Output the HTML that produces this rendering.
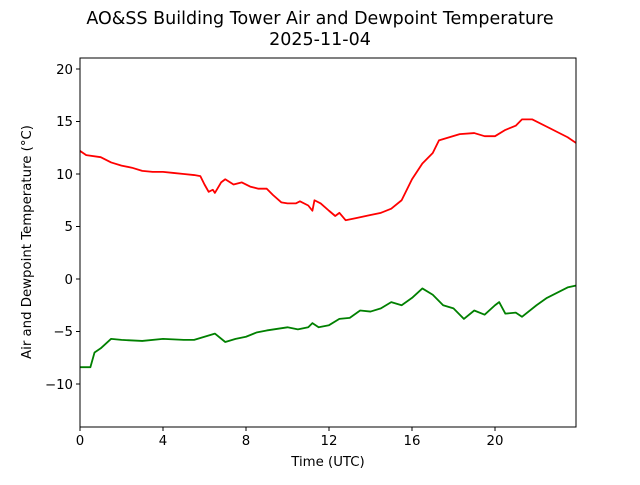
<!DOCTYPE html>
<html><head><meta charset="utf-8"><style>
body{margin:0;background:#fff;}
svg text{font-family:"DejaVu Sans","Liberation Sans",sans-serif;fill:#000;}
</style></head><body>
<svg width="640" height="480" viewBox="0 0 640 480" xmlns="http://www.w3.org/2000/svg">
<rect width="640" height="480" fill="#fff"/>
<text x="320" y="24" font-size="17.5" text-anchor="middle">AO&amp;SS Building Tower Air and Dewpoint Temperature</text>
<text x="320" y="45" font-size="17.5" text-anchor="middle">2025-11-04</text>
<defs><clipPath id="c"><rect x="80" y="58" width="496" height="369"/></clipPath></defs>
<g clip-path="url(#c)">
<g transform="translate(80,279) scale(20.75,-10.5)" fill="none" stroke-width="1.8" stroke-linejoin="round">
<polyline vector-effect="non-scaling-stroke" stroke="#ff0000" points="0,12.2 0.3,11.8 1,11.6 1.5,11.1 2,10.8 2.5,10.6 3,10.3 3.5,10.2 4,10.2 4.5,10.1 5,10.0 5.5,9.9 5.8,9.8 6,9.0 6.2,8.3 6.4,8.5 6.5,8.2 6.8,9.2 7,9.5 7.4,9.0 7.8,9.2 8.2,8.8 8.6,8.6 9,8.6 9.3,8.0 9.7,7.3 10,7.2 10.4,7.2 10.6,7.4 11,7.0 11.2,6.5 11.3,7.5 11.6,7.2 12,6.5 12.3,6.0 12.5,6.3 12.8,5.6 13.3,5.8 14,6.1 14.5,6.3 15,6.7 15.5,7.5 16,9.5 16.5,11.0 17,12.0 17.3,13.2 17.8,13.5 18.3,13.8 19,13.9 19.5,13.6 20,13.6 20.5,14.2 21,14.6 21.3,15.2 21.8,15.2 22.5,14.5 23,14.0 23.5,13.5 23.95,12.9"/>
<polyline vector-effect="non-scaling-stroke" stroke="#008000" points="0,-8.4 0.5,-8.4 0.7,-7.0 1,-6.6 1.5,-5.7 2,-5.8 3,-5.9 4,-5.7 5,-5.8 5.5,-5.8 6,-5.5 6.5,-5.2 7,-6.0 7.5,-5.7 8,-5.5 8.5,-5.1 9,-4.9 10,-4.6 10.5,-4.8 11,-4.6 11.2,-4.2 11.5,-4.6 12,-4.4 12.5,-3.8 13,-3.7 13.5,-3.0 14,-3.1 14.5,-2.8 15,-2.2 15.5,-2.5 16,-1.8 16.5,-0.9 17,-1.5 17.5,-2.5 18,-2.8 18.5,-3.8 19,-3.0 19.5,-3.4 20,-2.5 20.2,-2.2 20.5,-3.3 21,-3.2 21.3,-3.6 22,-2.5 22.5,-1.8 23,-1.3 23.5,-0.8 23.95,-0.6"/>
</g></g>
<rect x="80" y="58" width="496" height="369" fill="none" stroke="#000" stroke-width="1"/>
<g stroke="#000" stroke-width="1">
<line x1="80" y1="427" x2="80" y2="431"/><line x1="163" y1="427" x2="163" y2="431"/><line x1="246" y1="427" x2="246" y2="431"/><line x1="329" y1="427" x2="329" y2="431"/><line x1="412" y1="427" x2="412" y2="431"/><line x1="495" y1="427" x2="495" y2="431"/>
<line x1="76" y1="69" x2="80" y2="69"/><line x1="76" y1="121.5" x2="80" y2="121.5"/><line x1="76" y1="174" x2="80" y2="174"/><line x1="76" y1="226.5" x2="80" y2="226.5"/><line x1="76" y1="279" x2="80" y2="279"/><line x1="76" y1="331.5" x2="80" y2="331.5"/><line x1="76" y1="384" x2="80" y2="384"/>
</g>
<g font-size="13.3" text-anchor="middle">
<text x="80" y="445">0</text><text x="163" y="445">4</text><text x="246" y="445">8</text><text x="329" y="445">12</text><text x="412" y="445">16</text><text x="495" y="445">20</text>
<text x="328" y="466">Time (UTC)</text>
</g>
<g font-size="13.3" text-anchor="end">
<text x="73" y="74">20</text><text x="73" y="126">15</text><text x="73" y="179">10</text><text x="73" y="231">5</text><text x="73" y="284">0</text><text x="73" y="336">−5</text><text x="73" y="389">−10</text>
</g>
<text font-size="13.3" text-anchor="middle" transform="translate(31,242) rotate(-90)">Air and Dewpoint Temperature (°C)</text>
</svg>
</body></html>
